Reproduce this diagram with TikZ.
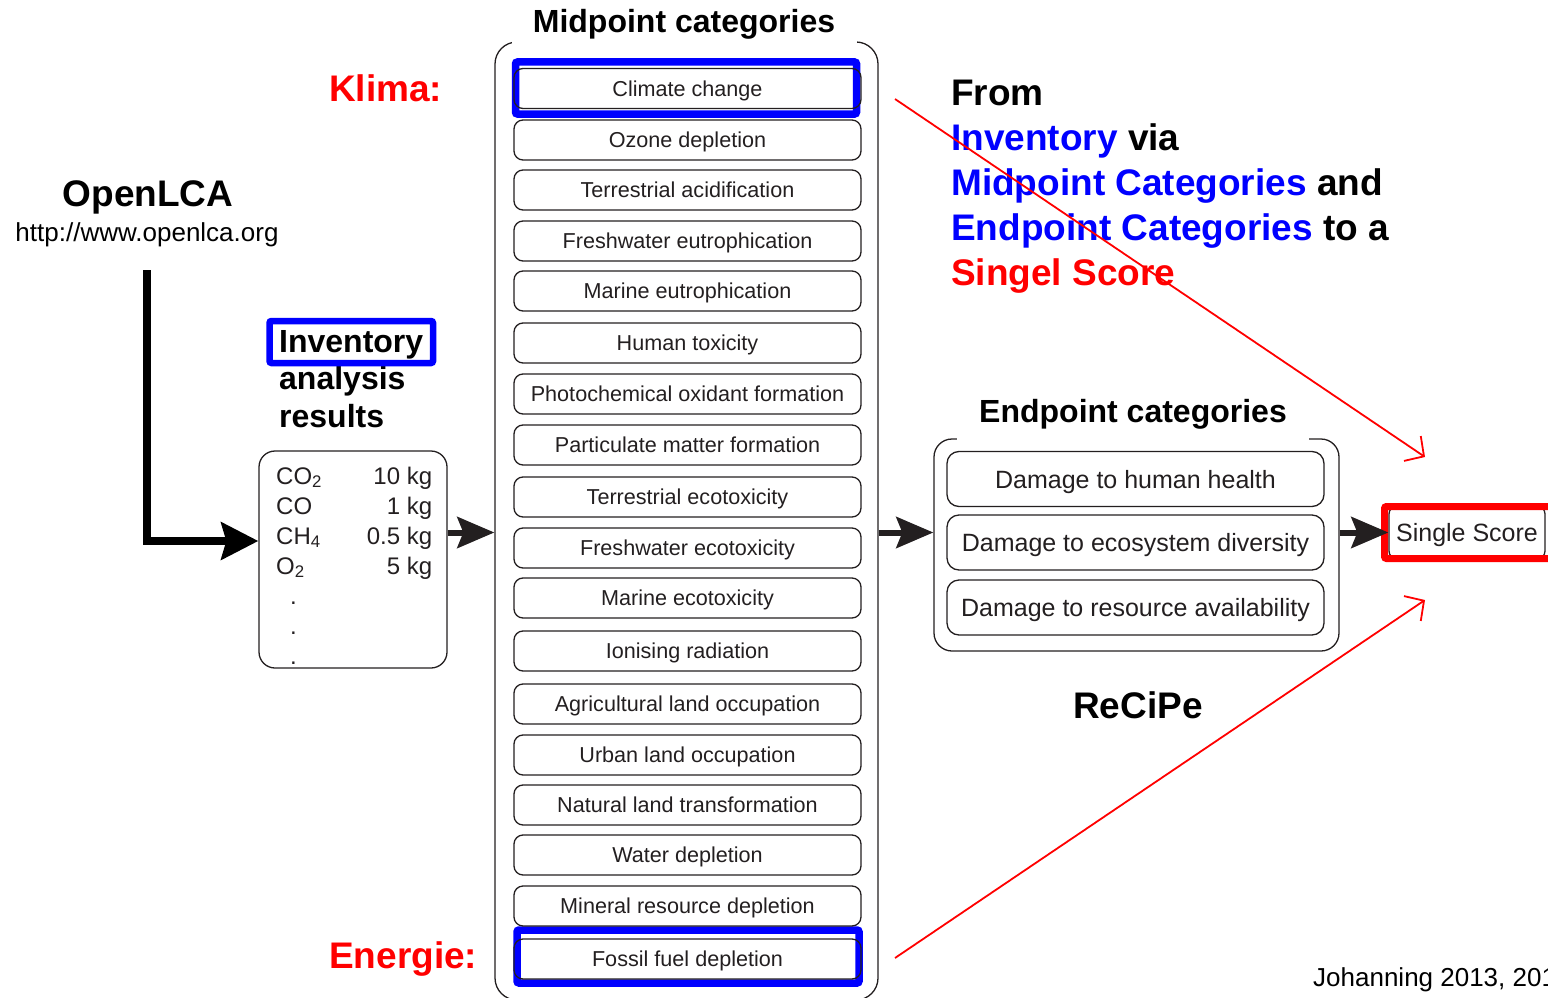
\documentclass[tikz,border=0pt]{standalone}
\usepackage{fontspec}
\setmainfont{Liberation Sans}
\usetikzlibrary{arrows.meta}
\definecolor{ink}{RGB}{35,31,32}
\definecolor{hlblue}{RGB}{0,0,255}
\definecolor{hlred}{RGB}{255,0,0}
\begin{document}
\begin{tikzpicture}[x=1pt,y=-1pt,
  frame/.style={draw=ink, line width=1.3pt, rounded corners=20pt, inner sep=0pt},
  mbox/.style={draw=ink, line width=1.3pt, rounded corners=9pt, minimum width=347pt, minimum height=40pt, inner sep=0pt, text=ink, text height=15.5pt, text depth=0pt, font=\fontsize{21.6}{26}\selectfont},
  ebox/.style={draw=ink, line width=1.3pt, rounded corners=12pt, minimum width=377pt, minimum height=55pt, inner sep=0pt, text=ink, text height=18pt, text depth=0pt, font=\fontsize{25}{30}\selectfont},
  heading/.style={fill=white, inner sep=0pt, font=\fontsize{32}{38}\selectfont\bfseries},
  fatarrow/.style={draw=ink, line width=6pt, -{Stealth[length=37pt,width=31pt,inset=6pt]}},
  hlbox/.style={draw=hlblue, line width=7.5pt, rounded corners=2pt},
  hlredbox/.style={draw=hlred, line width=7pt, rounded corners=2pt},
  redarrow/.style={draw=hlred, line width=1.8pt, -{Straight Barb[length=14pt,width=30pt]}},
  bigred/.style={text=hlred, inner sep=0pt, font=\fontsize{37}{44}\selectfont\bfseries}
]
\useasboundingbox (0,0) rectangle (1548,998);

% ---------- frames ----------
\node[frame, rounded corners=22pt, minimum width=383pt, minimum height=958pt] (midframe) at (686.5,521) {};
\node[frame, rounded corners=18pt, minimum width=405pt, minimum height=212pt] (endframe) at (1136.5,545) {};

\node[heading, minimum width=345pt, minimum height=48pt, anchor=base] (midhead) at (684,33) {Midpoint categories};
\node[heading, minimum width=352pt, minimum height=60pt, anchor=base] (endhead) at (1133,422) {Endpoint categories};

% ---------- highlights (blue) ----------
\draw[hlbox] (515.5,62) rectangle (856.5,114);
\draw[hlbox] (517,930) rectangle (859,983);

% ---------- midpoint boxes ----------
\foreach \t/\y [count=\i] in {Climate change/88.5, Ozone depletion/140, Terrestrial acidification/190,
  Freshwater eutrophication/241, Marine eutrophication/291, Human toxicity/343,
  Photochemical oxidant formation/394, Particulate matter formation/445,
  Terrestrial ecotoxicity/497, Freshwater ecotoxicity/548, Marine ecotoxicity/598,
  Ionising radiation/651, Agricultural land occupation/704, Urban land occupation/755,
  Natural land transformation/805, Water depletion/855, Mineral resource depletion/906,
  Fossil fuel depletion/959}
  \node[mbox] (m\i) at (687.5,\y) {\t};

% ---------- endpoint boxes ----------
\node[ebox] (e1) at (1135.5,479) {Damage to human health};
\node[ebox] (e2) at (1135.5,542.5) {Damage to ecosystem diversity};
\node[ebox] (e3) at (1135.5,607.5) {Damage to resource availability};

% ---------- single score ----------
\node[draw=ink, line width=1.3pt, rounded corners=8pt, minimum width=156pt, minimum height=53pt, inner sep=0pt, text=ink, text height=18pt, text depth=0pt, font=\fontsize{25}{30}\selectfont] (single) at (1467,532.5) {Single Score};
\draw[hlredbox] (1384.5,506.5) rectangle (1562,558.5);

% ---------- inventory ----------
\node[draw=ink, line width=1.3pt, rounded corners=16pt, minimum width=188pt, minimum height=217pt, inner sep=0pt] (inv) at (353,559.5) {};
\node[anchor=north west, inner sep=0pt, text=ink, font=\fontsize{24}{30}\selectfont] (invtab) at (276,463)
{\begin{tabular*}{156pt}{@{}l@{\extracolsep{\fill}}r@{}}
CO\textsubscript{2} & 10 kg\\
CO & 1 kg\\
CH\textsubscript{4} & 0.5 kg\\
O\textsubscript{2} & 5 kg\\
\hspace{14pt}. & \\
\hspace{14pt}. & \\
\hspace{14pt}. & \\
\end{tabular*}};

\node[anchor=north west, inner sep=0pt, align=left, font=\fontsize{32}{37.5}\selectfont\bfseries] (invlabel) at (279,330) {Inventory\\analysis\\results};
\draw[hlbox, line width=6.5pt] (269.5,321) rectangle (433,363);

% ---------- OpenLCA ----------
\node[anchor=base, inner sep=0pt, font=\fontsize{37}{44}\selectfont\bfseries] (openlca) at (148,206) {OpenLCA};
\node[anchor=base, inner sep=0pt, font=\fontsize{26}{31}\selectfont] (url) at (147,241) {http://www.openlca.org};

\coordinate (lstart) at (147,270);
\coordinate (lturn) at (147,541);
\draw[line width=8pt, line join=miter, -{Stealth[length=37pt,width=37pt,inset=5pt]}] (lstart) -- (lturn) -- (inv.west |- lturn);

% ---------- flow arrows ----------
\draw[fatarrow] (inv.east |- single) -- (midframe.west |- single);
\draw[fatarrow] (midframe.east |- single) -- (endframe.west |- single);
\draw[fatarrow] (endframe.east |- single) -- (single.west);

% ---------- labels ----------
\node[bigred, anchor=base west] (klima) at (329,101) {Klima:};
\node[bigred, anchor=base west] (energie) at (329,968) {Energie:};

\node[anchor=north west, inner sep=0pt, align=left, font=\fontsize{37}{45}\selectfont\bfseries] (summary) at (951,80)
{From\\
\textcolor{hlblue}{Inventory} via\\
\textcolor{hlblue}{Midpoint Categories} and\\
\textcolor{hlblue}{Endpoint Categories} to a\\
\textcolor{hlred}{Singel Score}};

\node[anchor=base, inner sep=0pt, font=\fontsize{37}{44}\selectfont\bfseries] (recipe) at (1138,718) {ReCiPe};
\node[anchor=base west, inner sep=0pt, font=\fontsize{26}{31}\selectfont] (credit) at (1313,986) {Johanning 2013, 201};

% ---------- red arrows ----------
\coordinate (r1s) at (895,99);
\coordinate (r1e) at (1425,457);
\coordinate (r2s) at (895,958);
\coordinate (r2e) at (1425,600);
\draw[redarrow] (r1s) -- (r1e);
\draw[redarrow] (r2s) -- (r2e);
\end{tikzpicture}
\end{document}
